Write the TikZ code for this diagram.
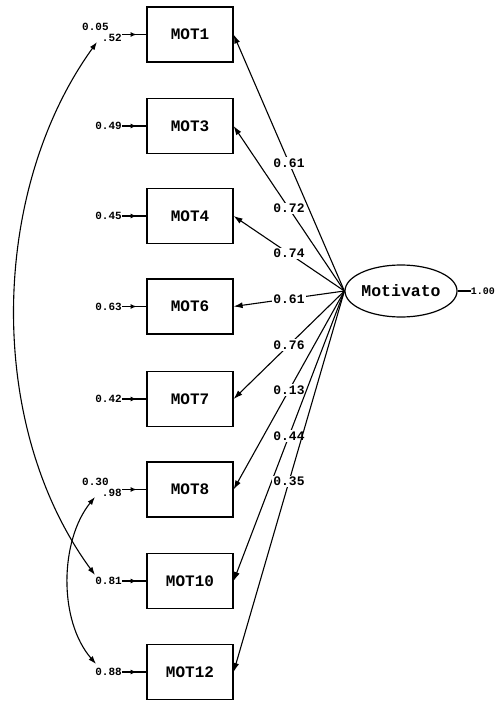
\documentclass[tikz,border=0pt]{standalone}
\usepackage{fontspec}
\setmonofont{Liberation Mono}
\usetikzlibrary{arrows.meta,decorations.markings,shapes.geometric}
\begin{document}
\begin{tikzpicture}[x=1pt,y=-1pt,
  obsbox/.style={draw, line width=1.2pt, minimum width=86pt, minimum height=55pt, inner sep=0pt,
    font=\ttfamily\bfseries\fontsize{16}{16}\selectfont},
  latent/.style={draw, ellipse, line width=1.2pt, minimum width=87pt, minimum height=52pt, inner sep=0pt,
    font=\ttfamily\bfseries\fontsize{16.5}{16.5}\selectfont},
  errlbl/.style={font=\ttfamily\bfseries\fontsize{11}{11}\selectfont, inner sep=0pt, anchor=east},
  covlbl/.style={font=\ttfamily\bfseries\fontsize{11}{11}\selectfont, inner sep=0pt, anchor=west},
  varlbl/.style={font=\ttfamily\bfseries\fontsize{10}{10}\selectfont, inner sep=0pt, anchor=east},
  loadlbl/.style={font=\ttfamily\bfseries\fontsize{13}{13}\selectfont, fill=white, inner sep=1.5pt},
  loadarrow/.style={line width=1.1pt, -{Latex[length=9pt,width=6pt]}},
  covarrow/.style={line width=1.1pt, {Latex[length=8pt,width=5.5pt]}-{Latex[length=8pt,width=5.5pt]}},
  errarrow/.style={line width=1.1pt, postaction={decorate},
    decoration={markings, mark=at position 0.6 with {\arrow{Latex[length=6pt,width=5pt]}}}},
  plainline/.style={line width=1.1pt}
]
\useasboundingbox (0,0) rectangle (496,703);

% observed variables
\node[obsbox] (M1)  at (190,34.5) {MOT1};
\node[obsbox] (M3)  at (190,126)  {MOT3};
\node[obsbox] (M4)  at (190,216)  {MOT4};
\node[obsbox] (M6)  at (190,306.5){MOT6};
\node[obsbox] (M7)  at (190,399)  {MOT7};
\node[obsbox] (M8)  at (190,489.5){MOT8};
\node[obsbox] (M10) at (190,581)  {MOT10};
\node[obsbox] (M12) at (190,672)  {MOT12};

% latent variable
\node[latent] (L) at (401,291) {Motivato};
\coordinate (c) at (L.west);

% loadings
\draw[loadarrow] (c) -- node[loadlbl]{0.61} (M1.east);
\draw[loadarrow] (c) -- node[loadlbl]{0.72} (M3.east);
\draw[loadarrow] (c) -- node[loadlbl]{0.74} (M4.east);
\draw[loadarrow] (c) -- node[loadlbl]{0.61} (M6.east);
\draw[loadarrow] (c) -- node[loadlbl]{0.76} (M7.east);
\draw[loadarrow] (c) -- node[loadlbl]{0.13} (M8.east);
\draw[loadarrow] (c) -- node[loadlbl]{0.44} (M10.east);
\draw[loadarrow] (c) -- node[loadlbl]{0.35} (M12.east);

% latent variance
\node[varlbl] (v) at (495,291) {1.00};
\draw[plainline] (L.east) -- (v.west);

% error variances
\node[errlbl] (e1)  at (122,37.5) {.52};
\node[errlbl] (e3)  at (122,126)  {0.49};
\node[errlbl] (e4)  at (122,216)  {0.45};
\node[errlbl] (e6)  at (122,306.5){0.63};
\node[errlbl] (e7)  at (122,399)  {0.42};
\node[errlbl] (e8)  at (122,492.5){.98};
\node[errlbl] (e10) at (122,581)  {0.81};
\node[errlbl] (e12) at (122,672)  {0.88};
\draw[errarrow] (e1.east |- M1.west) -- (M1.west);
\draw[errarrow] (e3.east) -- (M3.west);
\draw[errarrow] (e4.east) -- (M4.west);
\draw[errarrow] (e6.east) -- (M6.west);
\draw[errarrow] (e7.east) -- (M7.west);
\draw[errarrow] (e8.east |- M8.west) -- (M8.west);
\draw[errarrow] (e10.east) -- (M10.west);
\draw[errarrow] (e12.east) -- (M12.west);

% error covariances
\node[covlbl] (k1) at (82,27)  {0.05};
\node[covlbl] (k2) at (82,482) {0.30};
\coordinate (c1a) at (97,42);
\coordinate (c1b) at (95,575);
\coordinate (c2a) at (95,497);
\coordinate (c2b) at (96,664);
\draw[covarrow] (c1a) .. controls (-10,190) and (-15,425) .. (c1b);
\draw[covarrow] (c2a) .. controls (60,540) and (58,620) .. (c2b);
\end{tikzpicture}
\end{document}
